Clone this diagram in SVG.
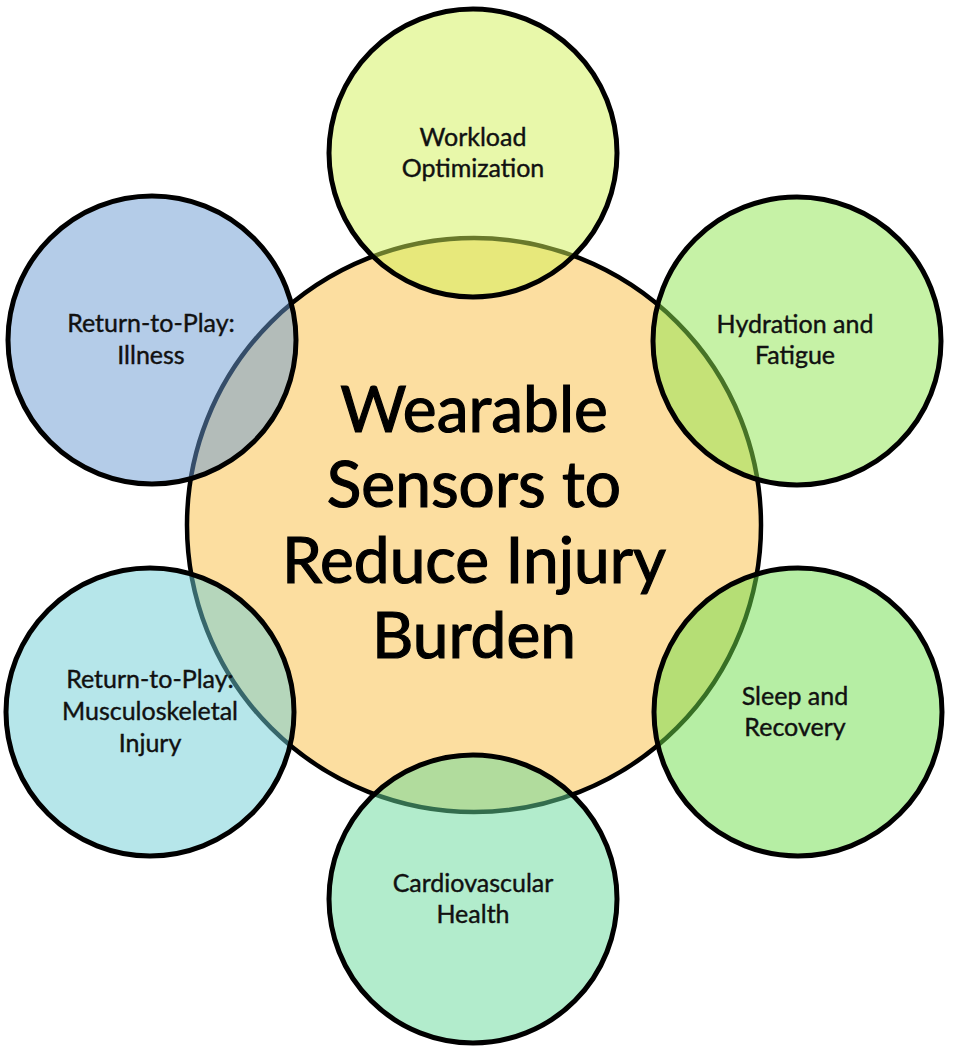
<svg xmlns="http://www.w3.org/2000/svg" width="957" height="1054" viewBox="0 0 957 1054">
<style>
.main{fill:#FCDEA0;stroke:#000;stroke-width:4.5}
.sat{stroke:#000;stroke-width:5;fill-opacity:0.5}
.lbl{font-family:Lato,"Open Sans",sans-serif;font-size:25px;fill:#111;stroke:#111;stroke-width:0.4;text-anchor:middle}
.big{font-family:Lato,"Open Sans",sans-serif;font-size:64px;fill:#000;stroke:#000;stroke-width:1.2;text-anchor:middle}
</style>
<rect width="957" height="1054" fill="#fff"/>
<g id="center">
<circle class="main" cx="474" cy="525" r="287"/>
<text class="big"><tspan x="474" y="432">Wearable</tspan><tspan x="474" y="507">Sensors to</tspan><tspan x="474" y="583">Reduce Injury</tspan><tspan x="474" y="658">Burden</tspan></text>
</g>
<g id="workload">
<circle class="sat" cx="473" cy="153" r="144" fill="#D1F155"/>
<text class="lbl"><tspan x="473" y="146">Workload</tspan><tspan x="473" y="177">Optimization</tspan></text>
</g>
<g id="hydration">
<circle class="sat" cx="797" cy="341" r="144" fill="#8DE54D"/>
<text class="lbl"><tspan x="795" y="333">Hydration and</tspan><tspan x="795" y="364">Fatigue</tspan></text>
</g>
<g id="sleep">
<circle class="sat" cx="798" cy="712" r="144" fill="#6DDD49"/>
<text class="lbl"><tspan x="795" y="705">Sleep and</tspan><tspan x="795" y="736">Recovery</tspan></text>
</g>
<g id="cardio">
<circle class="sat" cx="473" cy="899" r="144" fill="#65D999"/>
<text class="lbl"><tspan x="473" y="892">Cardiovascular</tspan><tspan x="473" y="923">Health</tspan></text>
</g>
<g id="msk">
<circle class="sat" cx="150" cy="712" r="144" fill="#6DCDD5"/>
<text class="lbl"><tspan x="150" y="688">Return-to-Play:</tspan><tspan x="150" y="720">Musculoskeletal</tspan><tspan x="150" y="752">Injury</tspan></text>
</g>
<g id="illness">
<circle class="sat" cx="152" cy="340" r="144" fill="#6999D1"/>
<text class="lbl"><tspan x="151" y="332">Return-to-Play:</tspan><tspan x="151" y="364">Illness</tspan></text>
</g>
<g id="connectors"></g>
</svg>
